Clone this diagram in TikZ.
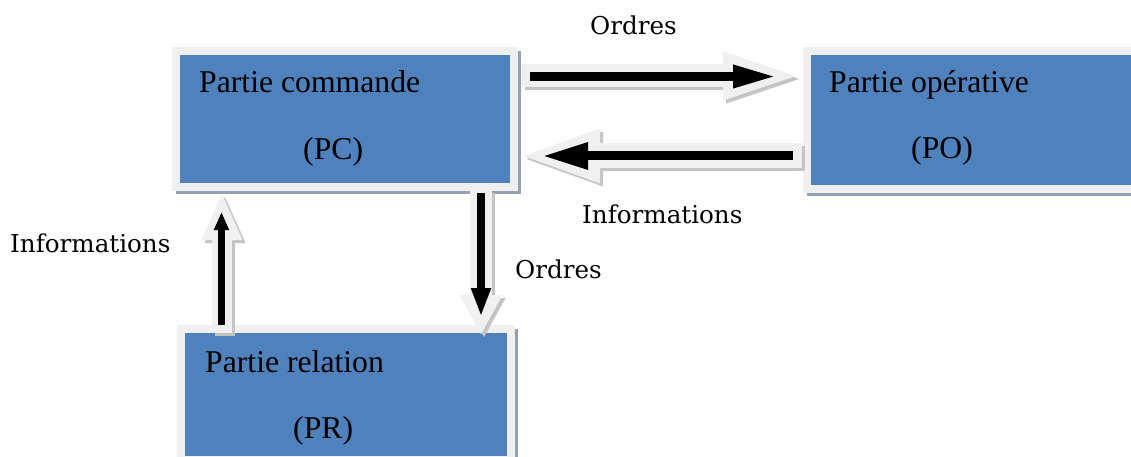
\documentclass[tikz,border=0pt]{standalone}
\usepackage{fontspec}
\setmainfont{Liberation Serif}
\newfontfamily\labelfont{DejaVu Serif}
\usetikzlibrary{arrows.meta,calc}
\definecolor{boxblue}{HTML}{4F81BD}
\definecolor{rimgray}{HTML}{F0F0F0}
\definecolor{boxshade}{HTML}{95A0B3}
\definecolor{arrowshade}{HTML}{C4C4C4}
\pgfdeclarelayer{bg}
\pgfsetlayers{bg,main}

\begin{document}
\begin{tikzpicture}[x=1pt,y=-1pt,
  block/.style={draw=rimgray, fill=boxblue, line width=8pt, inner sep=0pt, outer sep=0pt},
  boxtext/.style={anchor=base west, inner sep=0pt, font=\fontsize{31.7}{38}\selectfont},
  lbl/.style={anchor=base west, inner sep=0pt, font=\labelfont\fontsize{24.6}{30}\selectfont},
  rim/.style={draw=rimgray},
  rimshadow/.style={draw=arrowshade, transform canvas={xshift=3pt,yshift=-3pt}},
  core/.style={draw=black}]

\useasboundingbox (0,0) rectangle (1131,457);

% the three blocks
\node[block, minimum width=338pt, minimum height=136pt] (pc) at (345,119) {};
\node[block, minimum width=333pt, minimum height=137.5pt] (po) at (973.5,119.75) {};
\node[block, minimum width=330pt, minimum height=131pt] (pr) at (346,394.5) {};

% shadows under the blocks
\begin{pgfonlayer}{bg}
  \foreach \b in {pc,po,pr}
    \fill[boxshade] (\b.north west) rectangle ([xshift=7pt,yshift=-7pt]\b.south east);
\end{pgfonlayer}

% block captions
\node[boxtext] (pct1) at (199,93) {Partie commande};
\node[boxtext] (pct2) at (303,160) {(PC)};
\node[boxtext] (pot1) at (829,93) {Partie opérative};
\node[boxtext] (pot2) at (911,159) {(PO)};
\node[boxtext] (prt1) at (205,372) {Partie relation};
\node[boxtext] (prt2) at (293,438) {(PR)};

% PC -> PO : orders
\draw[rimshadow, line width=23pt, -{Triangle[length=89pt,width=40pt]}]
  ([xshift=8pt,yshift=-25pt]pc.north east) -- ([xshift=5pt,yshift=-25pt]po.north west);
\draw[rim, line width=23pt, -{Triangle[length=89pt,width=40pt]}]
  ([xshift=8pt,yshift=-25pt]pc.north east) -- ([xshift=5pt,yshift=-25pt]po.north west);
\draw[core, line width=9pt, -{Triangle[length=44pt,width=21pt]}]
  ([xshift=16pt,yshift=-25.5pt]pc.north east) -- ([xshift=-30pt,yshift=-25.5pt]po.north west);

% PO -> PC : information
\draw[rimshadow, line width=25pt, -{Triangle[length=85pt,width=47pt]}]
  ([xshift=-5pt,yshift=-105pt]po.north west) -- ([xshift=1pt,yshift=-105pt]pc.north east);
\draw[rim, line width=25pt, -{Triangle[length=85pt,width=47pt]}]
  ([xshift=-5pt,yshift=-105pt]po.north west) -- ([xshift=1pt,yshift=-105pt]pc.north east);
\draw[core, line width=9pt, -{Triangle[length=46pt,width=25pt]}]
  ([xshift=-14pt,yshift=-105pt]po.north west) -- ([xshift=28pt,yshift=-105pt]pc.north east);

% PR -> PC : information
\draw[rimshadow, line width=20pt, -{Triangle[length=48pt,width=37pt]}]
  ([xshift=41pt,yshift=-4pt]pr.north west) -- ([xshift=46pt,yshift=-5pt]pc.south west);
\draw[rim, line width=20pt, -{Triangle[length=48pt,width=37pt]}]
  ([xshift=41pt,yshift=-4pt]pr.north west) -- ([xshift=46pt,yshift=-5pt]pc.south west);
\draw[core, line width=7pt, -{Triangle[length=18pt,width=14pt]}]
  ([xshift=40.5pt,yshift=4pt]pr.north west) -- ([xshift=45.5pt,yshift=-25pt]pc.south west);

% PC -> PR : orders
\draw[rimshadow, line width=22pt, -{Triangle[length=40pt,width=40pt]}]
  ([xshift=-33pt,yshift=-3pt]pc.south east) -- ([xshift=-30pt,yshift=-6pt]pr.north east);
\draw[rim, line width=22pt, -{Triangle[length=40pt,width=40pt]}]
  ([xshift=-33pt,yshift=-3pt]pc.south east) -- ([xshift=-30pt,yshift=-6pt]pr.north east);
\draw[core, line width=8pt, -{Triangle[length=29pt,width=18pt]}]
  ([xshift=-33pt,yshift=-6pt]pc.south east) -- ([xshift=-30pt,yshift=12pt]pr.north east);

% arrow labels
\node[lbl] (ord1) at (590,35) {Ordres};
\node[lbl] (inf1) at (582,223) {Informations};
\node[lbl] (inf2) at (10,252) {Informations};
\node[lbl] (ord2) at (515,278) {Ordres};
\end{tikzpicture}
\end{document}
